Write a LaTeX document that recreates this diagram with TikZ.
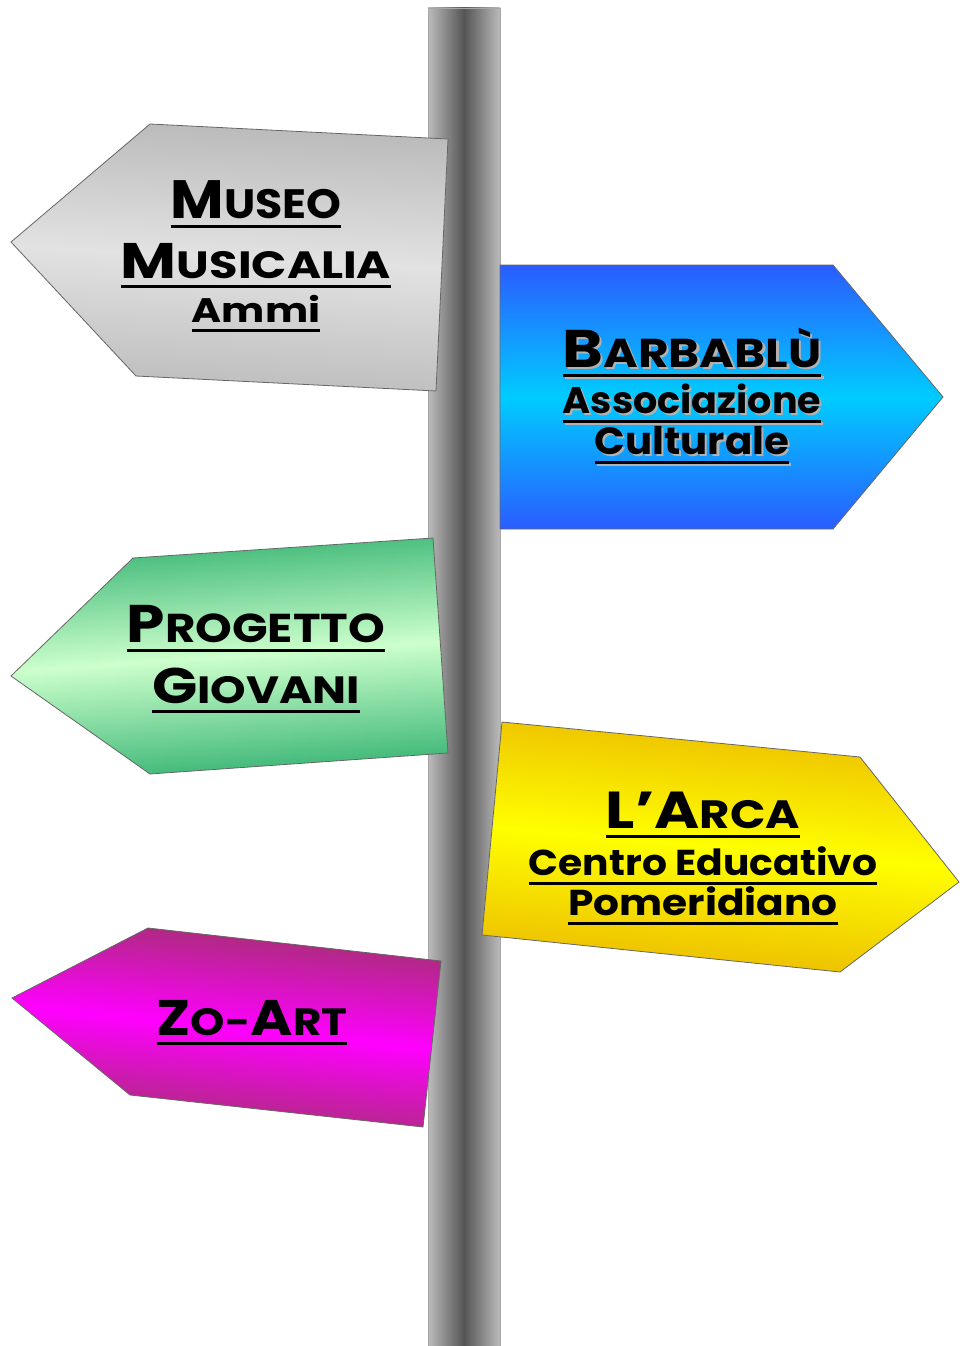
\documentclass[tikz,border=0pt]{standalone}
\usepackage{fontspec}
\setmainfont{Poppins}
\newlength\ulwd
\newcommand\ulx[1]{\settowidth\ulwd{#1}\rlap{\rule[-10pt]{\ulwd}{3pt}}#1}
\newcommand\smc[2]{#1\scalebox{.76}{#2}}
\newcommand\shd[1]{\rlap{\kern2pt\raisebox{-2pt}{\color{gray!60}#1}}#1}
\newcommand\wide[2]{\scalebox{#1}[1]{#2}}
\definecolor{poledark}{HTML}{555555}
\definecolor{polelight}{HTML}{BBBBBB}
\tikzset{
  sign/.style={draw=gray!80!black, line width=.8pt},
  lbl/.style={anchor=base, inner sep=0pt, font=\bfseries}
}
\begin{document}
\begin{tikzpicture}[x=1pt, y=-1pt]
\useasboundingbox (0,0) rectangle (959,1346);
\draw[draw=gray!70, left color=polelight, right color=polelight, middle color=poledark] (428,8) rectangle (500,1346);
\draw[sign, top color={rgb,255:red,185;green,185;blue,185}, bottom color={rgb,255:red,188;green,188;blue,188}, middle color={rgb,255:red,226;green,226;blue,226}, shading angle=-3]
  (150,124) -- (448,139) -- (436,391) -- (136,376) -- (11,242) -- cycle;
\node[lbl, font=\bfseries\fontsize{54}{54}\selectfont] (museo) at (256,218) {\wide{1.08}{\ulx{\smc{M}{USEO}}}};
\node[lbl, font=\bfseries\fontsize{50}{50}\selectfont] (musicalia) at (256,278) {\wide{1.22}{\ulx{\smc{M}{USICALIA}}}};
\node[lbl, font=\bfseries\fontsize{34}{34}\selectfont] (ammi) at (256,322) {\wide{1.2}{\ulx{Ammi}}};
\draw[sign, top color={rgb,255:red,42;green,92;blue,255}, bottom color={rgb,255:red,42;green,92;blue,255}, middle color={rgb,255:red,0;green,204;blue,255}]
  (500,265) -- (833,265) -- (943,397) -- (833,529) -- (500,529) -- cycle;
\node[lbl, font=\bfseries\fontsize{53}{53}\selectfont] (barbablu) at (692,367) {\wide{1.17}{\shd{\ulx{\smc{B}{ARBABLÙ}}}}};
\node[lbl, font=\bfseries\fontsize{37}{37}\selectfont] (associazione) at (692,413) {\wide{1.03}{\shd{\ulx{Associazione}}}};
\node[lbl, font=\bfseries\fontsize{38}{38}\selectfont] (culturale) at (692,454) {\wide{1.06}{\shd{\ulx{Culturale}}}};
\draw[sign, top color={rgb,255:red,55;green,180;blue,115}, bottom color={rgb,255:red,55;green,180;blue,115}, middle color={rgb,255:red,204;green,255;blue,204}, shading angle=4]
  (133,558) -- (433,538) -- (448,753) -- (150,774) -- (11,676) -- cycle;
\node[lbl, font=\bfseries\fontsize{53}{53}\selectfont] (progetto) at (256,642) {\wide{1.16}{\ulx{\smc{P}{ROGETTO}}}};
\node[lbl, font=\bfseries\fontsize{50}{50}\selectfont] (giovani) at (256,703) {\wide{1.19}{\ulx{\smc{G}{IOVANI}}}};
\draw[sign, top color={rgb,255:red,235;green,185;blue,0}, bottom color={rgb,255:red,235;green,185;blue,0}, middle color={rgb,255:red,255;green,255;blue,0}, shading angle=-5]
  (502,722) -- (860,757) -- (959,882) -- (840,972) -- (482,935) -- cycle;
\node[lbl, font=\bfseries\fontsize{52}{52}\selectfont] (larca) at (703,828) {\wide{1.18}{\ulx{\smc{L’A}{RCA}}}};
\node[lbl, font=\bfseries\fontsize{36}{36}\selectfont] (centro) at (703,875) {\wide{1.09}{\ulx{Centro Educativo}}};
\node[lbl, font=\bfseries\fontsize{36}{36}\selectfont] (pomeridiano) at (703,915) {\wide{1.13}{\ulx{Pomeridiano}}};
\draw[sign, top color={rgb,255:red,160;green,50;blue,105}, bottom color={rgb,255:red,160;green,50;blue,105}, middle color={rgb,255:red,255;green,0;blue,255}, shading angle=-6]
  (148,928) -- (441,961) -- (423,1127) -- (130,1095) -- (12,998) -- cycle;
\node[lbl, font=\bfseries\fontsize{50}{50}\selectfont] (zoart) at (252,1035) {\wide{1.15}{\ulx{\smc{Z}{O-}\smc{A}{RT}}}};
\end{tikzpicture}
\end{document}
